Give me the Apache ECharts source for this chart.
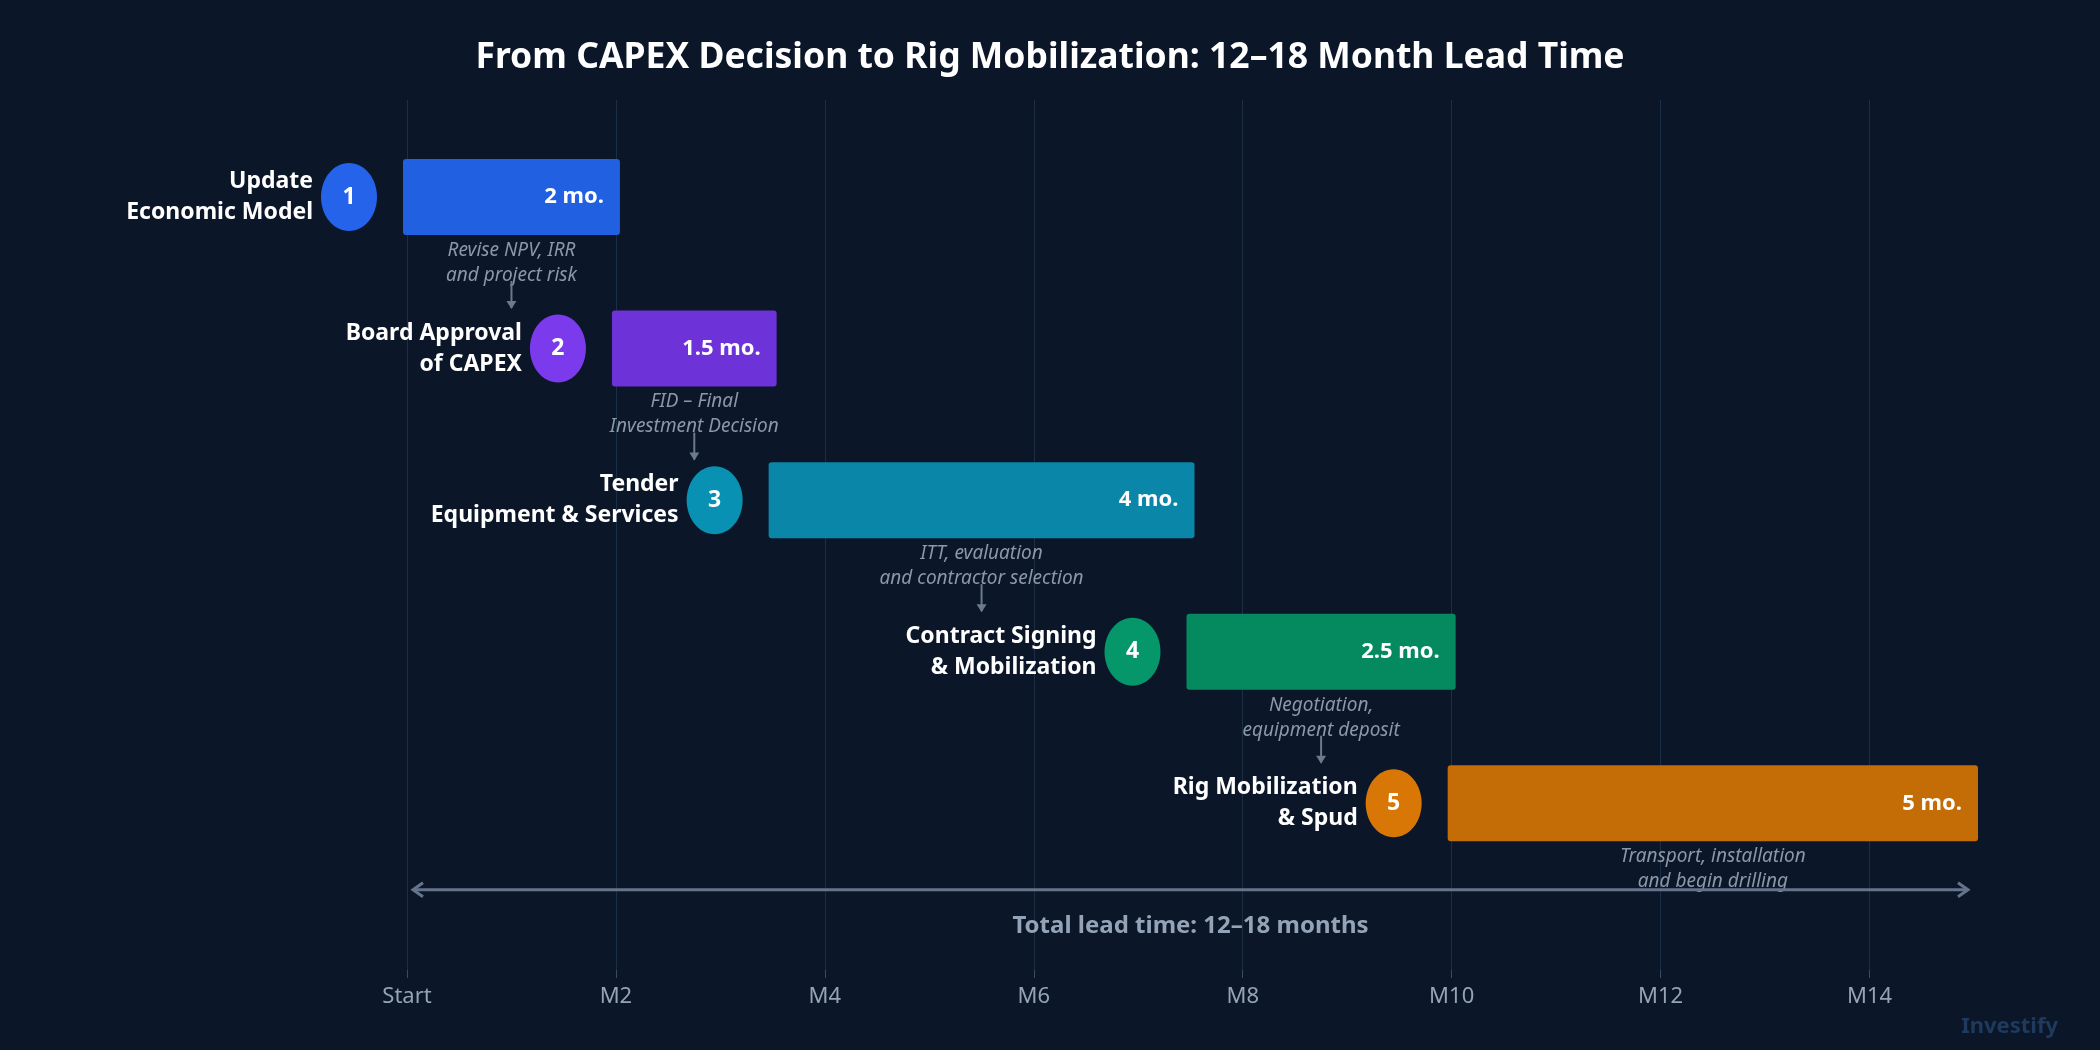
<!DOCTYPE html>
<html>
<head>
<meta charset="utf-8">
<script src="https://cdn.jsdelivr.net/npm/echarts@6/dist/echarts.min.js"></script>
<style>
  html, body { margin: 0; padding: 0; background: #0b1628; }
  #chart { width: 2100px; height: 1050px; }
</style>
</head>
<body>
<div id="chart"></div>
<script>
( () => {
    const stepNames = [ 'Update\nEconomic Model', 'Board Approval\nof CAPEX', 'Tender\nEquipment & Services', 'Contract Signing\n& Mobilization', 'Rig Mobilization\n& Spud' ];
    const stepStart = [ 0, 2, 3.5, 7.5, 10 ];
    const stepMonths = [ 2, 1.5, 4, 2.5, 5 ];
    const stepNotes = [ 'Revise NPV, IRR\nand project risk', 'FID – Final\nInvestment Decision', 'ITT, evaluation\nand contractor selection', 'Negotiation,\nequipment deposit', 'Transport, installation\nand begin drilling' ];
    const barColors = [ '#2160e0', '#6d32d8', '#0a86a8', '#058a60', '#c46c06' ];
    const dotColors = [ '#2563eb', '#7c3aed', '#0891b2', '#059669', '#d97706' ];
    const totalLabel = 'Total lead time: 12–18 months';
    const totalSpan = [ 0, 15 ];
    const lastTick = 14;

    const font = '"Noto Sans", "Open Sans", sans-serif';
    const chart = echarts.init( document.getElementById( 'chart' ) );

    const rows = stepNames.map( ( n, i ) => [ stepStart[ i ], stepStart[ i ] + stepMonths[ i ], i ] );

    const renderStep = ( params, api ) => {
        const i = params.dataIndex;
        const p0 = api.coord( [ api.value( 0 ), api.value( 2 ) ] );
        const p1 = api.coord( [ api.value( 1 ), api.value( 2 ) ] );
        const x0 = p0[ 0 ] - 4, x1 = p1[ 0 ] + 4, y = p0[ 1 ];
        const cx = ( p0[ 0 ] + p1[ 0 ] ) / 2;
        const children = [
            { type: 'rect', shape: { x: x0, y: y - 38, width: x1 - x0, height: 76, r: 3 }, style: { fill: barColors[ i ] } },
            { type: 'text', style: { x: x1 - 16, y: y, text: stepMonths[ i ] + ' mo.', fill: '#ffffff', font: 'bold 22px ' + font, align: 'right', verticalAlign: 'middle' } },
            { type: 'ellipse', shape: { cx: x0 - 54, cy: y, rx: 28, ry: 34 }, style: { fill: dotColors[ i ] } },
            { type: 'text', style: { x: x0 - 54, y: y, text: String( i + 1 ), fill: '#ffffff', font: 'bold 23px ' + font, align: 'center', verticalAlign: 'middle' } },
            { type: 'text', style: { x: x0 - 90, y: y, text: stepNames[ i ], fill: '#ffffff', font: 'bold 23px ' + font, align: 'right', verticalAlign: 'middle', lineHeight: 31 } },
            { type: 'text', style: { x: cx, y: y + 66, text: stepNotes[ i ], fill: '#8b98a8', font: 'italic 19px ' + font, align: 'center', verticalAlign: 'middle', lineHeight: 25 } },
        ];
        if ( i < stepNames.length - 1 ) {
            const ay = y + 84, by = y + 111;
            children.push(
                { type: 'line', shape: { x1: cx, y1: ay, x2: cx, y2: by }, style: { stroke: '#6b7a8d', lineWidth: 2 } },
                { type: 'polygon', shape: { points: [ [ cx - 5, by - 7 ], [ cx + 5, by - 7 ], [ cx, by + 1 ] ] }, style: { fill: '#6b7a8d' } }
            );
        }
        return { type: 'group', children };
    };

    const renderTotal = ( params, api ) => {
        const a = api.coord( [ api.value( 0 ), 4.57 ] );
        const b = api.coord( [ api.value( 1 ), 4.57 ] );
        const xa = a[ 0 ] + 6, xb = b[ 0 ] - 6, y = a[ 1 ];
        const c = '#64748b';
        return { type: 'group', children: [
            { type: 'line', shape: { x1: xa, y1: y, x2: xb, y2: y }, style: { stroke: c, lineWidth: 3 } },
            { type: 'polyline', shape: { points: [ [ xa + 10, y - 7 ], [ xa, y ], [ xa + 10, y + 7 ] ] }, style: { stroke: c, lineWidth: 3, fill: 'none' } },
            { type: 'polyline', shape: { points: [ [ xb - 10, y - 7 ], [ xb, y ], [ xb - 10, y + 7 ] ] }, style: { stroke: c, lineWidth: 3, fill: 'none' } },
            { type: 'text', style: { x: ( a[ 0 ] + b[ 0 ] ) / 2, y: api.coord( [ 0, 4.81 ] )[ 1 ], text: totalLabel, fill: '#94a3b8', font: 'bold 24px ' + font, align: 'center', verticalAlign: 'middle' } },
        ] };
    };

    // second grid spans Start..M14 only, so ticks stop at M14
    const gridLeft = 407, gridRight = 126;
    const monthPx = ( 2100 - gridLeft - gridRight ) / totalSpan[ 1 ];

    chart.setOption( {
        backgroundColor: '#0b1628',
        animation: false,
        title: {
            text: 'From CAPEX Decision to Rig Mobilization: 12–18 Month Lead Time',
            left: 'center',
            top: 35,
            textStyle: { color: '#ffffff', fontSize: 35.5, fontWeight: 'bold', fontFamily: font },
        },
        graphic: [ {
            type: 'text', right: 42, bottom: 12,
            style: { text: 'Investify', fill: '#1e3a5f', font: 'bold 22px ' + font },
        } ],
        grid: [
            { left: gridLeft, right: gridRight, top: 100, bottom: 80 },
            { left: gridLeft, right: gridRight + monthPx * ( totalSpan[ 1 ] - lastTick ), top: 100, bottom: 80 },
        ],
        xAxis: [ {
            type: 'value', min: 0, max: totalSpan[ 1 ], interval: 2, gridIndex: 0,
            axisLine: { show: false, onZero: false },
            axisTick: { show: false },
            axisLabel: { show: false },
            splitLine: { showMaxLine: false, lineStyle: { color: '#1c2d46', width: 1 } },
        }, {
            type: 'value', min: 0, max: lastTick, interval: 2, gridIndex: 1,
            axisLine: { show: false, onZero: false },
            axisTick: { show: true, length: 8, lineStyle: { color: '#3a4a60' } },
            axisLabel: {
                color: '#94a3b8', fontSize: 22, fontFamily: font, margin: 16,
                formatter: v => v === 0 ? 'Start' : 'M' + v,
            },
            splitLine: { show: false },
        } ],
        yAxis: [
            { type: 'value', min: -0.64, max: 5.1, inverse: true, show: false, gridIndex: 0 },
            { type: 'value', min: 0, max: 1, show: false, gridIndex: 1 },
        ],
        series: [
            { type: 'custom', renderItem: renderStep, data: rows, clip: false },
            { type: 'custom', renderItem: renderTotal, data: [ totalSpan ], clip: false },
        ],
    } );
} ) ();
</script>
</body>
</html>
